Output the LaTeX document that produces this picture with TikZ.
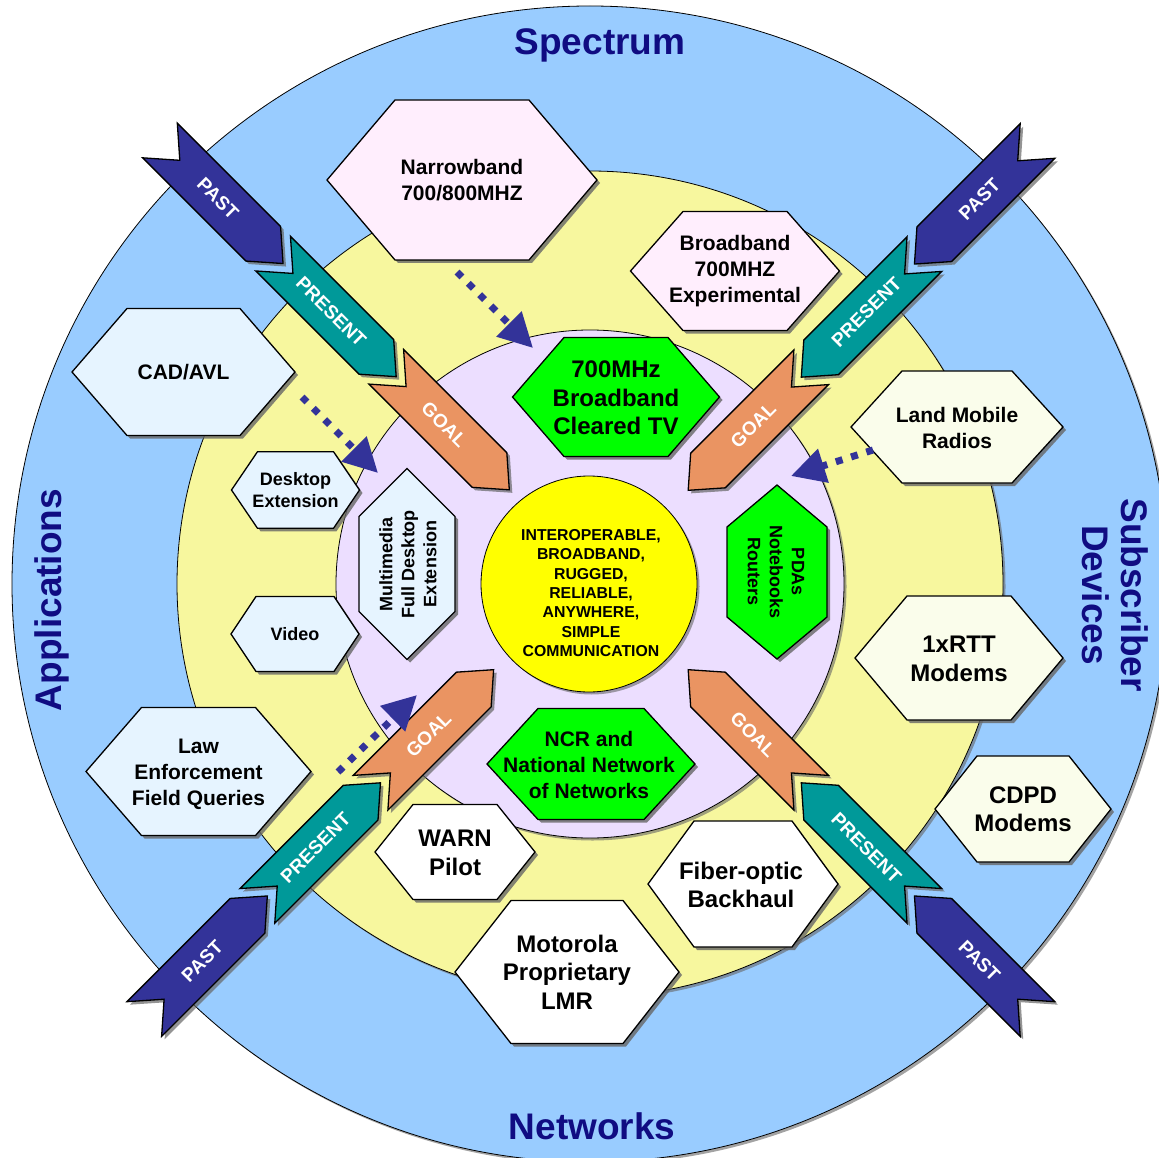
\documentclass[tikz,border=0pt]{standalone}
\usepackage{fontspec}
\setmainfont{Liberation Sans}
\usepackage{tikz}
\usetikzlibrary{arrows.meta,shadows}

\definecolor{ringblue}{RGB}{153,204,255}
\definecolor{ringyellow}{RGB}{247,247,158}
\definecolor{ringlilac}{RGB}{236,222,255}
\definecolor{coreyellow}{RGB}{255,255,0}
\definecolor{pastnavy}{RGB}{51,51,153}
\definecolor{presteal}{RGB}{0,153,153}
\definecolor{goalorange}{RGB}{234,148,98}
\definecolor{titlenavy}{RGB}{16,12,130}
\definecolor{hexpink}{RGB}{255,238,253}
\definecolor{hexblue}{RGB}{230,244,255}
\definecolor{hexcream}{RGB}{250,253,235}
\definecolor{hexgreen}{RGB}{0,255,0}

\newcommand{\hexa}[6]{% x, y, half width, half height, point depth, fill
  \path[hexline,fill=#6] ({#1-#3},#2) -- ({#1-#3+#5},{#2-#4}) -- ({#1+#3-#5},{#2-#4})
    -- ({#1+#3},#2) -- ({#1+#3-#5},{#2+#4}) -- ({#1-#3+#5},{#2+#4}) -- cycle;}
\newcommand{\vhexa}[6]{% pointed at top and bottom
  \path[hexline,fill=#6] (#1,{#2-#4}) -- ({#1+#3},{#2-#4+#5}) -- ({#1+#3},{#2+#4-#5})
    -- (#1,{#2+#4}) -- ({#1-#3},{#2+#4-#5}) -- ({#1-#3},{#2-#4+#5}) -- cycle;}

\begin{document}
\begin{tikzpicture}[x=1pt,y=-1pt]
  \tikzstyle{ringline}=[draw=black,line width=0.8pt,
    drop shadow={shadow xshift=2.5pt,shadow yshift=-2.5pt,fill=black!60,opacity=0.6}]
  \tikzstyle{hexline}=[draw=black,line width=1.3pt,line join=miter,
    drop shadow={shadow xshift=3pt,shadow yshift=-3pt,fill=black!60,opacity=0.8}]
  \tikzstyle{chevline}=[draw=black,line width=1.3pt,line join=miter,
    drop shadow={shadow xshift=3pt,shadow yshift=-3pt,fill=black!60,opacity=0.7}]
  \tikzstyle{txts}=[font=\bfseries\fontsize{18}{22}\selectfont,align=center]
  \tikzstyle{txtm}=[font=\bfseries\fontsize{21}{26}\selectfont,align=center]
  \tikzstyle{txtl}=[font=\bfseries\fontsize{24}{28.5}\selectfont,align=center]
  \tikzstyle{coretext}=[font=\bfseries\fontsize{15.8}{19.3}\selectfont,align=center]
  \tikzstyle{title}=[font=\bfseries\fontsize{37}{39}\selectfont,text=titlenavy,align=center]
  \tikzstyle{chevtext}=[font=\bfseries\fontsize{19}{22}\selectfont,text=white,inner sep=0pt]
  \tikzstyle{dotarrow}=[draw=pastnavy,line width=7pt,dash pattern=on 7pt off 9pt,
    -{Triangle[length=34pt,width=34pt]}]

  \useasboundingbox (0,0) rectangle (1159,1158);

  \path[ringline,fill=ringblue] (590,584) circle (578);
  \path[ringline,fill=ringyellow] (590,584) circle (413);
  \path[ringline,fill=ringlilac] (590,584) circle (254);
  \path[ringline,fill=coreyellow] (589,584) circle (108);

  \node[title,anchor=base] (spectrum) at (600,55) {Spectrum};
  \node[title,anchor=base] (networks) at (592,1139) {Networks};
  \node[title,rotate=90,anchor=base] (applications) at (61,600) {Applications};
  \node[title,rotate=-90] (devices) at (1115,595) {Subscriber\\Devices};

  \foreach \bx/\by/\ang/\tang/\cn in {160/140.5/-45/-45/tl,1037.5/141/-135/45/tr,
      144.3/1019/45/45/bl,1037.5/1019/135/-45/br}{
    \begin{scope}[shift={(\bx,\by)},x={(\ang:1pt)},y={({\ang+90}:1pt)}]
      \foreach \off/\col/\lbl in {0/pastnavy/PAST,160/presteal/PRESENT,320/goalorange/GOAL}{
        \path[chevline,fill=\col] (\off,24.5) -- ++(146,0) -- ++(28,-24.5) -- ++(-28,-24.5)
          -- ++(-146,0) -- ++(28,24.5) -- cycle;
        \node[chevtext,rotate=\tang] (\cn-\lbl) at (\off+82,0) {\lbl};
      }
    \end{scope}
  }

  \hexa{462}{180}{135}{80}{68}{hexpink}
  \node[txtm] (narrowband) at (462,180) {Narrowband\\700/800MHZ};
  \hexa{735}{271}{104.5}{59.5}{52.5}{hexpink}
  \node[txtm] (broadband) at (735,271) {Broadband\\700MHZ\\Experimental};
  \hexa{183.5}{372}{111.5}{63.5}{55}{hexblue}
  \node[txtm] (cadavl) at (183.5,372) {CAD/AVL};
  \hexa{957}{427}{106}{56}{51}{hexcream}
  \node[txtm] (landmobile) at (957,428) {Land Mobile\\Radios};
  \hexa{295.5}{490}{64}{38.3}{26}{hexblue}
  \node[txts] (desktop) at (295.5,490) {Desktop\\Extension};
  \hexa{295}{634}{64}{37.5}{25}{hexblue}
  \node[txts] (video) at (295,634) {Video};
  \vhexa{407}{564}{48}{95.5}{48}{hexblue}
  \node[txts,rotate=90] (multimedia) at (408,564) {Multimedia\\Full Desktop\\Extension};
  \hexa{198.5}{771.5}{112.5}{64}{55.5}{hexblue}
  \node[txtm] (lawenf) at (198.5,774) {Law\\Enforcement\\Field Queries};
  \hexa{616}{397}{103.5}{59.5}{51.5}{hexgreen}
  \node[txtl] (clearedtv) at (616,398) {700MHz\\Broadband\\Cleared TV};
  \vhexa{777}{572}{50}{87}{42}{hexgreen}
  \node[txts,rotate=-90] (pdas) at (776,572) {PDAs\\Notebooks\\Routers};
  \hexa{591}{764}{104}{55.5}{51}{hexgreen}
  \node[txtm] (ncr) at (589,765) {NCR and\\National Network\\of Networks};
  \hexa{959}{658}{104}{62}{52}{hexcream}
  \node[txtl] (onexrtt) at (959,659) {1xRTT\\Modems};
  \hexa{1023}{809}{88}{53}{42}{hexcream}
  \node[txtl] (cdpd) at (1023,809) {CDPD\\Modems};
  \hexa{455}{852}{80}{47.5}{38}{white}
  \node[txtl] (warn) at (455,853) {WARN\\Pilot};
  \hexa{743}{884}{95}{63}{46}{white}
  \node[txtl] (fiber) at (741,885) {Fiber-optic\\Backhaul};
  \hexa{567}{972}{112}{71.5}{56}{white}
  \node[txtl] (motorola) at (567,972) {Motorola\\Proprietary\\LMR};

  \node[coretext] (core) at (591,593) {INTEROPERABLE,\\BROADBAND,\\RUGGED,\\RELIABLE,\\ANYWHERE,\\SIMPLE\\COMMUNICATION};

  \coordinate (nbtail) at (457,272);
  \coordinate (nbhead) at (533,348);
  \coordinate (cadtail) at (302,397);
  \coordinate (cadhead) at (378,473);
  \coordinate (lmrtail) at (873,450);
  \coordinate (lmrhead) at (791,476);
  \coordinate (lawtail) at (338,772);
  \coordinate (lawhead) at (417,695);
  \draw[dotarrow] (nbtail) -- (nbhead);
  \draw[dotarrow] (cadtail) -- (cadhead);
  \draw[dotarrow] (lmrtail) -- (lmrhead);
  \draw[dotarrow] (lawtail) -- (lawhead);
\end{tikzpicture}
\end{document}
